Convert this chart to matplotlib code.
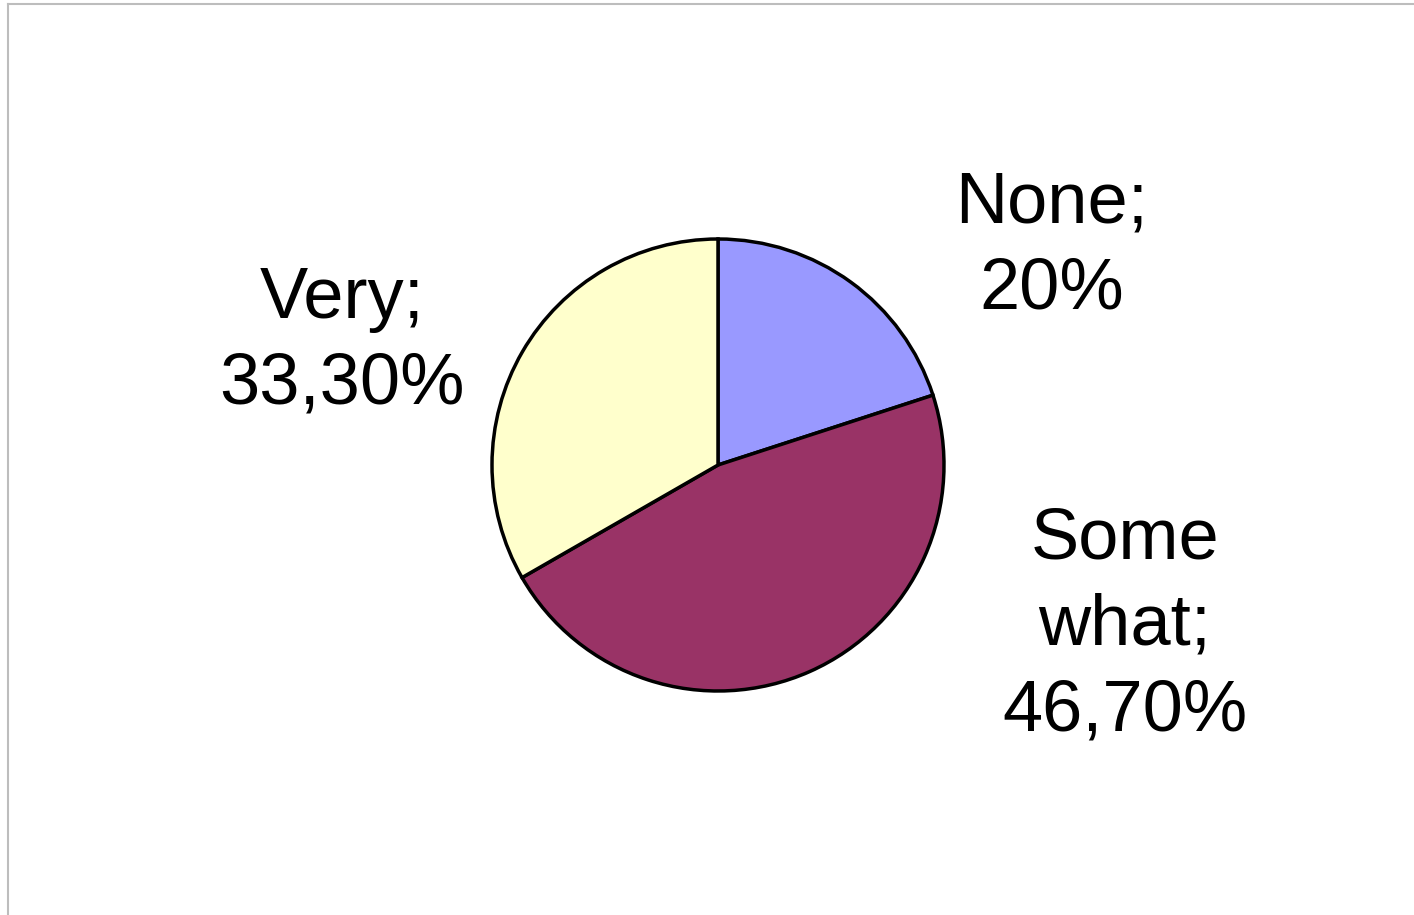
import matplotlib
matplotlib.use("Agg")
import matplotlib.pyplot as plt
from matplotlib.lines import Line2D

# share of answers, clockwise from the top
labels = ["None", "Some what", "Very"]
label_text = ["None;\n20%", "Some\nwhat;\n46,70%", "Very;\n33,30%"]
shares = [20.0, 46.7, 33.3]
colors = ["#9999FF", "#993366", "#FFFFCC"]

W, H = 1414, 915
fig = plt.figure(figsize=(W / 100, H / 100), dpi=100)
ax = fig.add_axes([0, 0, 1, 1])

cx, cy, r = 718, H - 465, 226
ax.pie(shares, colors=colors, startangle=90, counterclock=False,
       center=(cx, cy), radius=r,
       wedgeprops=dict(edgecolor="black", linewidth=2.5))
ax.set_xlim(0, W)
ax.set_ylim(0, H)
ax.set_aspect("equal")
ax.axis("off")

# label positions in pixels
label_pos = [(1052, H - 247), (1125, H - 626), (342, H - 342)]
for txt, (x, y) in zip(label_text, label_pos):
    ax.text(x, y, txt, ha="center", va="center", fontsize=52,
            family="Liberation Sans", linespacing=1.36)

# thin frame on the top and left edge
fig.add_artist(Line2D([8 / W, 8 / W], [0, 1 - 4 / H], transform=fig.transFigure,
                      color="#BDBDBD", lw=1.5))
fig.add_artist(Line2D([8 / W, 1], [1 - 4 / H, 1 - 4 / H], transform=fig.transFigure,
                      color="#BDBDBD", lw=1.5))

fig.savefig("out.png", dpi=100)
